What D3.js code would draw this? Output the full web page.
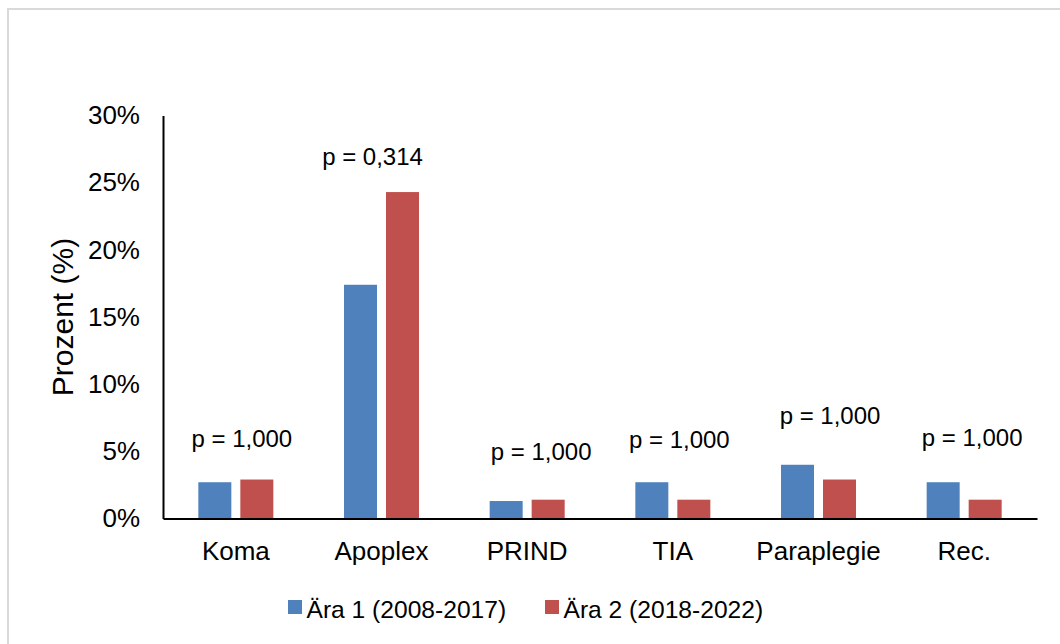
<!DOCTYPE html>
<html>
<head>
<meta charset="utf-8">
<script src="https://cdn.jsdelivr.net/npm/d3@7/dist/d3.min.js"></script>
<style>
  html, body { margin: 0; padding: 0; background: #fff; }
  svg { display: block; font-family: "Liberation Sans", Arial, sans-serif; }
</style>
</head>
<body>
<svg id="chart" width="1060" height="644"></svg>
<script>
// Complication rates per era (percent)
const categories = ["Koma", "Apoplex", "PRIND", "TIA", "Paraplegie", "Rec."];
const era1 = [2.7, 17.4, 1.3, 2.7, 4.0, 2.7];
const era2 = [2.9, 24.3, 1.4, 1.4, 2.9, 1.4];
const pValues = ["p = 1,000", "p = 0,314", "p = 1,000", "p = 1,000", "p = 1,000", "p = 1,000"];
const yTicks = [0, 5, 10, 15, 20, 25, 30];
const seriesNames = ["Ära 1 (2008-2017)", "Ära 2 (2018-2022)"];
const seriesColors = ["#4F81BD", "#C0504D"];

// Where each p-value label sits: height on the value axis and a horizontal nudge
const pLabelLevel = [5.35, 26.33, 4.34, 5.26, 7.03, 5.41];
const pLabelShift = [6, -9, 14, 6.5, 11.5, 8];

const svg = d3.select("#chart");
const W = 1060, H = 644;
const plot = { left: 163, right: 1037, top: 115.5, bottom: 518.5 };
const axisFont = 26;

// Outer frame
svg.append("rect")
  .attr("x", 8).attr("y", 9)
  .attr("width", W + 20).attr("height", H + 20)
  .attr("fill", "#fff")
  .attr("stroke", "#d9d9d9").attr("stroke-width", 2);

const x = d3.scaleBand().domain(categories).range([plot.left, plot.right]).padding(0);
const y = d3.scaleLinear().domain([0, 30]).range([plot.bottom, plot.top]);

const barW = 33, barGap = 9;
const rows = categories.map((c, i) => ({ c, i, v: [era1[i], era2[i]] }));

const groups = svg.append("g").selectAll("g").data(rows).join("g")
  .attr("transform", d => `translate(${x(d.c) + x.bandwidth() / 2},0)`);

groups.selectAll("rect")
  .data(d => d.v.map((v, s) => ({ v, s })))
  .join("rect")
  .attr("x", d => d.s === 0 ? -(barGap / 2 + barW) : barGap / 2)
  .attr("width", barW)
  .attr("y", d => y(d.v))
  .attr("height", d => y(0) - y(d.v))
  .attr("fill", d => seriesColors[d.s]);

// p-value annotations
groups.append("text")
  .attr("x", d => pLabelShift[d.i])
  .attr("y", d => y(pLabelLevel[d.i]))
  .attr("text-anchor", "middle")
  .attr("font-size", 24)
  .attr("fill", "#000")
  .text(d => pValues[d.i]);

// Y axis
const yAxis = d3.axisLeft(y).tickValues(yTicks).tickSize(0).tickPadding(23)
  .tickFormat(d => d + "%");
const gy = svg.append("g").attr("transform", `translate(${plot.left},0)`).call(yAxis);
gy.select(".domain").attr("stroke", "#000").attr("stroke-width", 2);
gy.selectAll("text").attr("font-size", axisFont).attr("fill", "#000")
  .attr("font-family", "Liberation Sans, Arial, sans-serif");

// X axis
const xAxis = d3.axisBottom(x).tickSize(0).tickPadding(23);
const gx = svg.append("g").attr("transform", `translate(0,${plot.bottom})`).call(xAxis);
gx.select(".domain").attr("stroke", "#000").attr("stroke-width", 2);
gx.selectAll("text").attr("font-size", axisFont).attr("fill", "#000")
  .attr("font-family", "Liberation Sans, Arial, sans-serif");

// Y axis title
svg.append("text")
  .attr("transform", `translate(73,${(plot.top + plot.bottom) / 2}) rotate(-90)`)
  .attr("text-anchor", "middle")
  .attr("font-size", 30)
  .attr("fill", "#000")
  .text("Prozent (%)");

// Legend
const legendX = [288, 545];
const legend = svg.append("g").selectAll("g").data(seriesNames).join("g")
  .attr("transform", (d, i) => `translate(${legendX[i]},600)`);
legend.append("rect").attr("width", 14).attr("height", 14)
  .attr("fill", (d, i) => seriesColors[i]);
legend.append("text").attr("x", 18.5).attr("y", 18)
  .attr("font-size", 24.6).attr("fill", "#000")
  .text(d => d);
</script>
</body>
</html>
